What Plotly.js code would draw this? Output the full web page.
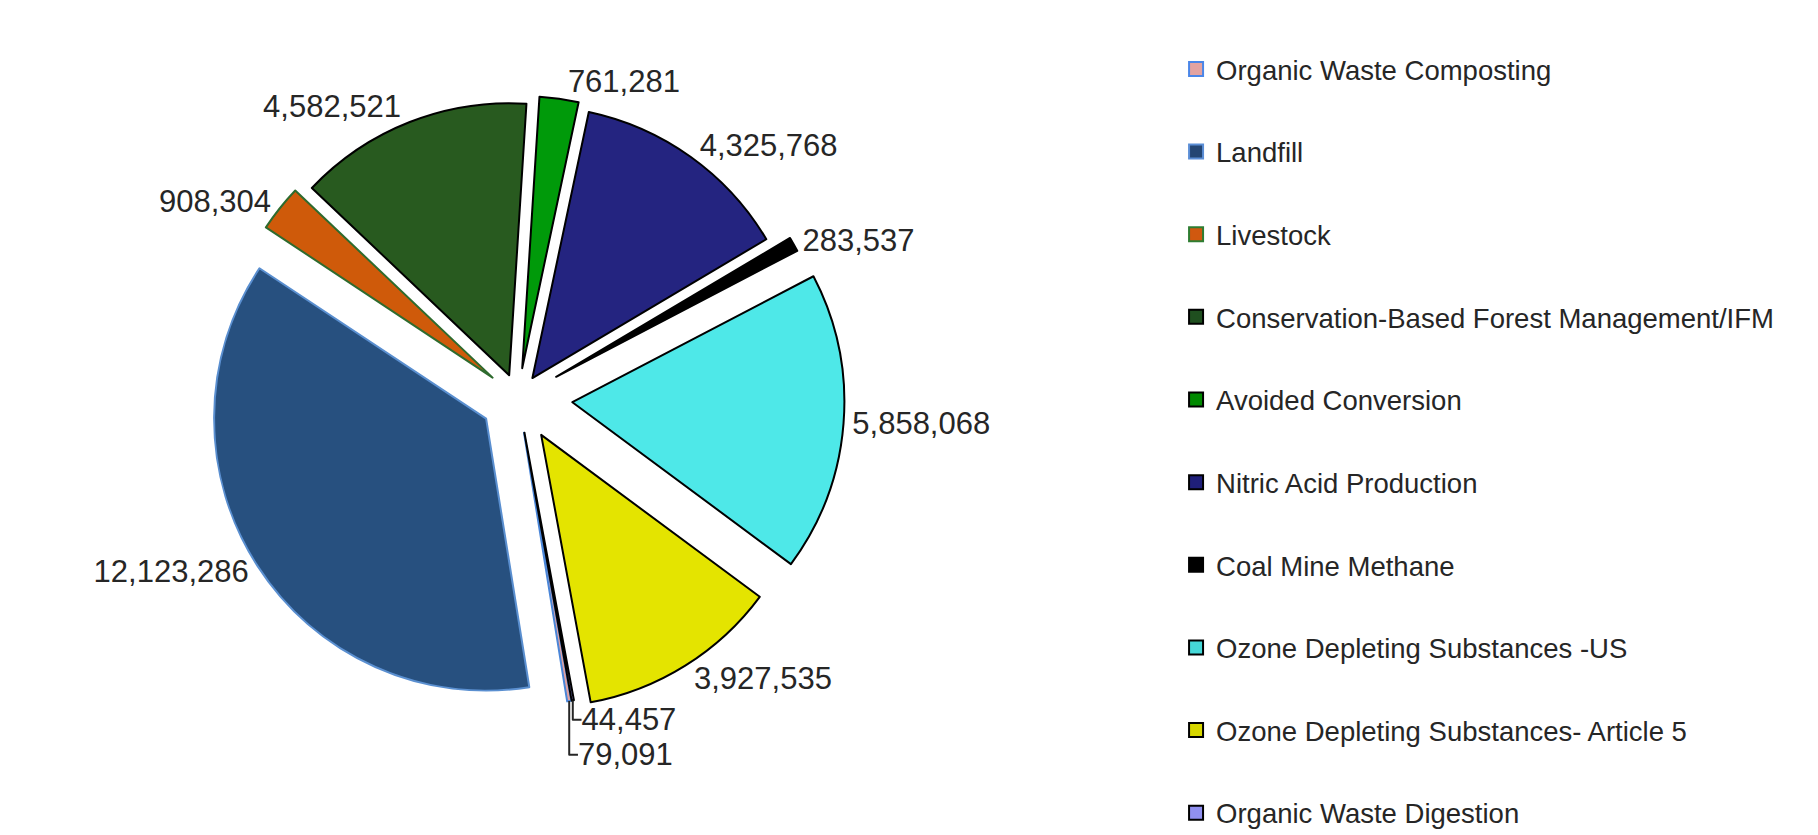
<!DOCTYPE html>
<html>
<head>
<meta charset="utf-8">
<script src="https://cdn.plot.ly/plotly-3.0.1.min.js"></script>
<style>
  html, body { margin: 0; padding: 0; background: #ffffff; }
  #chart { width: 1818px; height: 835px; }
</style>
</head>
<body>
<div id="chart"></div>
<script>
// ---- data ----
const categories = [
  "Organic Waste Composting",
  "Landfill",
  "Livestock",
  "Conservation-Based Forest Management/IFM",
  "Avoided Conversion",
  "Nitric Acid Production",
  "Coal Mine Methane",
  "Ozone Depleting Substances -US",
  "Ozone Depleting Substances- Article 5",
  "Organic Waste Digestion"
];
const values = [79091, 12123286, 908304, 4582521, 761281, 4325768, 283537, 5858068, 3927535, 44457];

// ---- styles ----
const sliceColors = ["#e3a3a1", "#27507f", "#cf5a0a", "#285a1f", "#009a0a", "#242480", "#000000", "#4ee8e8", "#e4e400", "#9090ee"];
const lineColors  = ["#4a86d8", "#5a8fd0", "#2e6b2e", "#000000", "#000000", "#000000", "#000000", "#000000", "#000000", "#000000"];
const legendColors = ["#e3a3a1", "#244673", "#d0580f", "#1f4f1f", "#008a00", "#1f1f7a", "#000000", "#45d8d8", "#d8d800", "#9090f0"];
const legendLines  = ["#4a86e8", "#5b8ed6", "#2e7d32", "#000000", "#000000", "#000000", "#000000", "#000000", "#000000", "#000000"];
const pulls = [0.13, 0.14, 0.12, 0.09, 0.11, 0.09, 0.16, 0.20, 0.16, 0.13];

const FONT = "Liberation Sans, Arial, sans-serif";
const TEXT_COLOR = "#262626";

const pieTrace = {
  type: "pie",
  labels: categories,
  values: values,
  sort: false,
  direction: "clockwise",
  rotation: 170,
  pull: pulls,
  marker: { colors: sliceColors, line: { color: lineColors, width: 2 } },
  textinfo: "value",
  texttemplate: "%{value:,}",
  textposition: "outside",
  outsidetextfont: { family: FONT, size: 31, color: TEXT_COLOR },
  showlegend: false,
  hoverinfo: "label+value",
  domain: { x: [0.05, 0.52], y: [0.1325, 0.9143] }
};

// legend entries (one per category) so that the entries can be spaced like the original
const legendTraces = categories.map((name, i) => ({
  type: "scatter",
  mode: "markers",
  x: [null],
  y: [null],
  name: name,
  legendgroup: "g" + i,
  showlegend: true,
  hoverinfo: "skip",
  marker: { symbol: "square", size: 14, color: legendColors[i], line: { color: legendLines[i], width: 2 } }
}));

const layout = {
  width: 1818,
  height: 835,
  paper_bgcolor: "#ffffff",
  plot_bgcolor: "#ffffff",
  margin: { l: 0, r: 0, t: 0, b: 0, autoexpand: false },
  xaxis: { visible: false },
  yaxis: { visible: false },
  showlegend: true,
  legend: {
    x: 0.6469, xanchor: "left",
    y: 0.9467, yanchor: "top",
    traceorder: "grouped",
    tracegroupgap: 43.9,
    font: { family: FONT, size: 27.5, color: TEXT_COLOR },
    bgcolor: "rgba(0,0,0,0)"
  },
  font: { family: FONT, color: TEXT_COLOR }
};

Plotly.newPlot("chart", [pieTrace].concat(legendTraces), layout, { displayModeBar: false, staticPlot: true });
</script>
</body>
</html>
